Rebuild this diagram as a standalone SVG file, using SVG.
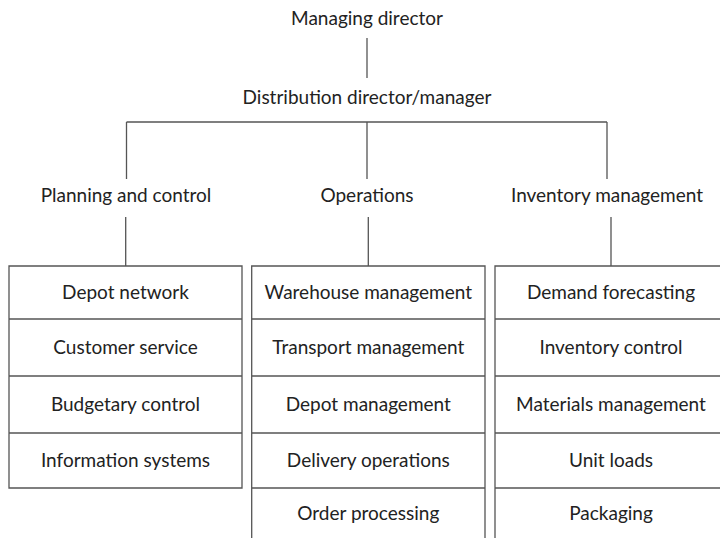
<svg xmlns="http://www.w3.org/2000/svg" width="720" height="538" viewBox="0 0 720 538">
<style>
text{font-family:Lato,"Open Sans","Liberation Sans",sans-serif;font-size:19px;fill:#222;text-anchor:middle}
.ln{stroke:#555;stroke-width:1.3;fill:none}
</style>
<rect width="720" height="538" fill="#fff"/>
<g id="connectors" class="ln">
<path d="M367 38V78"/>
<path d="M126.5 122H607"/>
<path d="M126.5 122V179M367 122V179M607 122V179"/>
<path d="M125.7 217V266M368.3 217V266M611 217V266"/>
</g>
<g id="managing"><text x="367" y="25">Managing director</text></g>
<g id="distribution"><text x="367" y="104">Distribution director/manager</text></g>
<g id="planning"><text x="126" y="202">Planning and control</text></g>
<g id="operations"><text x="367" y="202">Operations</text></g>
<g id="inventory"><text x="607" y="202">Inventory management</text></g>
<g id="planning-box">
<path class="ln" d="M9 266H242V488H9Z M9 319H242M9 376H242M9 433H242"/>
<text x="125.5" y="299">Depot network</text>
<text x="125.5" y="354">Customer service</text>
<text x="125.5" y="411">Budgetary control</text>
<text x="125.5" y="467">Information systems</text>
</g>
<g id="operations-box">
<path class="ln" d="M251.7 540V266H485V540 M251.7 319H485M251.7 376H485M251.7 433H485M251.7 488H485"/>
<text x="368.3" y="299">Warehouse management</text>
<text x="368.3" y="354">Transport management</text>
<text x="368.3" y="411">Depot management</text>
<text x="368.3" y="467">Delivery operations</text>
<text x="368.3" y="520">Order processing</text>
</g>
<g id="inventory-box">
<path class="ln" d="M495 540V266H722 M495 319H722M495 376H722M495 433H722M495 488H722"/>
<text x="611" y="299">Demand forecasting</text>
<text x="611" y="354">Inventory control</text>
<text x="611" y="411">Materials management</text>
<text x="611" y="467">Unit loads</text>
<text x="611" y="520">Packaging</text>
</g>
</svg>
